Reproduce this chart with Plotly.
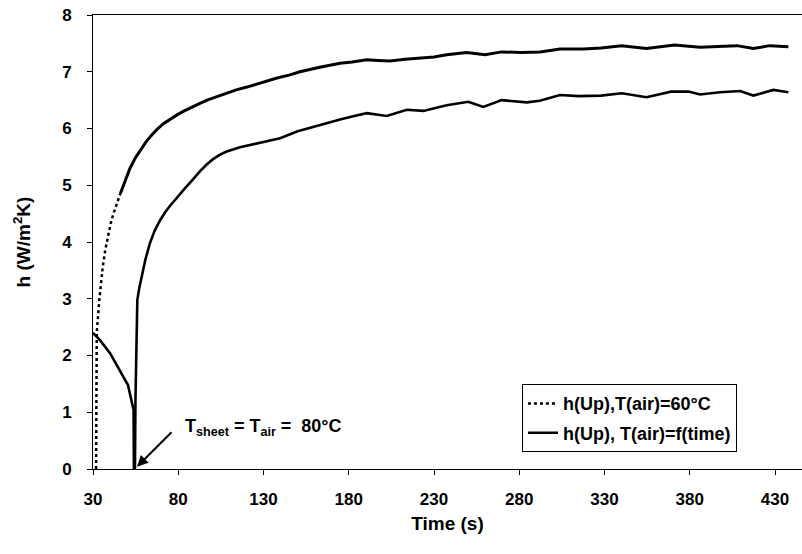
import plotly.graph_objects as go

# Series "h(Up),T(air)=60°C" (time in s, h in W/m2K)
t_up = [31.8, 31.8, 31.9, 31.9, 32.2, 33.7, 35.7, 37.2, 38.8, 40.4,
        42.0, 44.0, 46.0, 48.8, 51.7, 54.8, 58.0, 61.2, 64.6, 68.0,
        71.5, 75.3, 79.3, 83.5, 88.0, 92.4, 96.9, 102.4, 108.0, 114.0,
        120.3, 129.0, 137.9, 145.0, 151.4, 163.0, 174.9, 182.0, 190.5, 197.0,
        204.2, 213.0, 223.7, 230.0, 237.4, 249.2, 259.9, 269.7, 281.0, 292.2,
        303.9, 317.6, 328.0, 340.0, 354.6, 364.0, 371.0, 386.0, 397.7, 407.5,
        417.3, 427.0, 437.8]
h_up = [0.0, 0.6, 1.2, 1.8, 2.40, 2.98, 3.56, 3.86, 4.12, 4.33,
        4.50, 4.68, 4.85, 5.08, 5.30, 5.48, 5.63, 5.77, 5.89, 6.00,
        6.09, 6.17, 6.24, 6.31, 6.38, 6.44, 6.50, 6.56, 6.62, 6.68,
        6.73, 6.81, 6.89, 6.94, 7.00, 7.08, 7.15, 7.17, 7.21, 7.20,
        7.19, 7.22, 7.24, 7.26, 7.30, 7.34, 7.30, 7.35, 7.34, 7.35,
        7.40, 7.40, 7.42, 7.46, 7.41, 7.45, 7.47, 7.43, 7.44, 7.46,
        7.41, 7.46, 7.44]
dotted_until = 46.0  # early part of this series is drawn dotted

# Series "h(Up), T(air)=f(time)"
t_var = [30.0, 34.1, 40.0, 45.8, 50.5, 52.9, 53.8, 54.0, 54.6, 54.9,
         55.4, 56.0, 57.2, 58.6, 60.8, 63.4, 66.2, 69.3, 72.2, 75.0,
         78.0, 81.0, 84.0, 88.0, 92.8, 96.5, 100.4, 104.0, 108.0, 116.2,
         126.0, 135.6, 139.7, 150.0, 159.2, 174.9, 182.0, 190.5, 202.3, 214.0,
         223.7, 237.4, 250.1, 258.9, 269.7, 284.4, 292.0, 303.9, 315.0, 327.9,
         340.2, 354.6, 369.0, 379.3, 386.0, 397.7, 409.5, 417.3, 429.0, 437.8]
h_var = [2.40, 2.27, 2.04, 1.74, 1.48, 1.16, 1.04, 0.0, 0.0, 1.22,
         2.40, 2.98, 3.20, 3.40, 3.70, 3.98, 4.20, 4.38, 4.52, 4.63,
         4.74, 4.85, 4.95, 5.08, 5.25, 5.36, 5.46, 5.53, 5.59, 5.67,
         5.74, 5.80, 5.83, 5.95, 6.03, 6.16, 6.21, 6.27, 6.22, 6.33,
         6.31, 6.41, 6.47, 6.38, 6.50, 6.46, 6.49, 6.59, 6.57, 6.58,
         6.62, 6.55, 6.65, 6.65, 6.60, 6.64, 6.66, 6.58, 6.68, 6.64]

x_ticks = [30, 80, 130, 180, 230, 280, 330, 380, 430]
y_ticks = [0, 1, 2, 3, 4, 5, 6, 7, 8]

name_60 = "h(Up),T(air)=60°C"
name_var = "h(Up), T(air)=f(time)"

FONT = "Liberation Sans"

n_dot = sum(1 for t in t_up if t <= dotted_until)
t_dot, h_dot = t_up[:n_dot], h_up[:n_dot]
t_sol, h_sol = t_up[n_dot - 1:], h_up[n_dot - 1:]

fig = go.Figure()
fig.add_trace(go.Scatter(x=t_dot, y=h_dot, mode="lines", name=f"<b>{name_60}</b>",
                         legendgroup="a",
                         line=dict(color="black", width=2.5, dash="dot")))
fig.add_trace(go.Scatter(x=t_sol, y=h_sol, mode="lines", name=f"<b>{name_60}</b>",
                         legendgroup="a", showlegend=False,
                         line=dict(color="black", width=3)))
fig.add_trace(go.Scatter(x=t_var, y=h_var, mode="lines", name=f"<b>{name_var}</b>",
                         legendgroup="b",
                         line=dict(color="black", width=2.6)))

# arrow
fig.add_annotation(x=55.8, y=0.04, xref="x", yref="y", text="",
                   showarrow=True, arrowhead=2, arrowsize=1.1, arrowwidth=2,
                   arrowcolor="black", ax=36, ay=-36)
fig.add_annotation(x=82.8, y=0.74, xref="x", yref="y", xanchor="left",
                   yanchor="middle", showarrow=False,
                   text="<b>T<sub>sheet</sub> = T<sub>air</sub> =  80°C</b>",
                   font=dict(family=FONT, size=18, color="black"))

fig.update_layout(
    width=802, height=554,
    margin=dict(l=93, r=0, t=15, b=85),
    paper_bgcolor="white", plot_bgcolor="white",
    font=dict(family=FONT, color="black"),
    showlegend=True,
    legend=dict(x=0.605, y=0.037, xanchor="left", yanchor="bottom",
                bgcolor="white", bordercolor="black", borderwidth=1,
                font=dict(family=FONT, size=18, color="black"),
                tracegroupgap=3, traceorder="grouped"),
    xaxis=dict(range=[30, 445.8], tickvals=x_ticks, ticktext=[f"<b>{v}</b>" for v in x_ticks],
               showline=True, linecolor="black", linewidth=1, mirror=True,
               ticks="outside", ticklen=5, tickcolor="black",
               showgrid=False, zeroline=False,
               tickfont=dict(family=FONT, size=17), ticklabelstandoff=10,
               title=dict(text="<b>Time (s)</b>", font=dict(family=FONT, size=19), standoff=8)),
    yaxis=dict(range=[0, 8], tickvals=y_ticks, ticktext=[f"<b>{v}</b>" for v in y_ticks],
               showline=True, linecolor="black", linewidth=1,
               ticks="outside", ticklen=5, tickcolor="black",
               showgrid=False, zeroline=False,
               tickfont=dict(family=FONT, size=17), ticklabelstandoff=12,
               title=dict(text="<b>h (W/m<sup>2</sup>K)</b>", font=dict(family=FONT, size=19), standoff=26)),
)

fig.write_html("out.html")
